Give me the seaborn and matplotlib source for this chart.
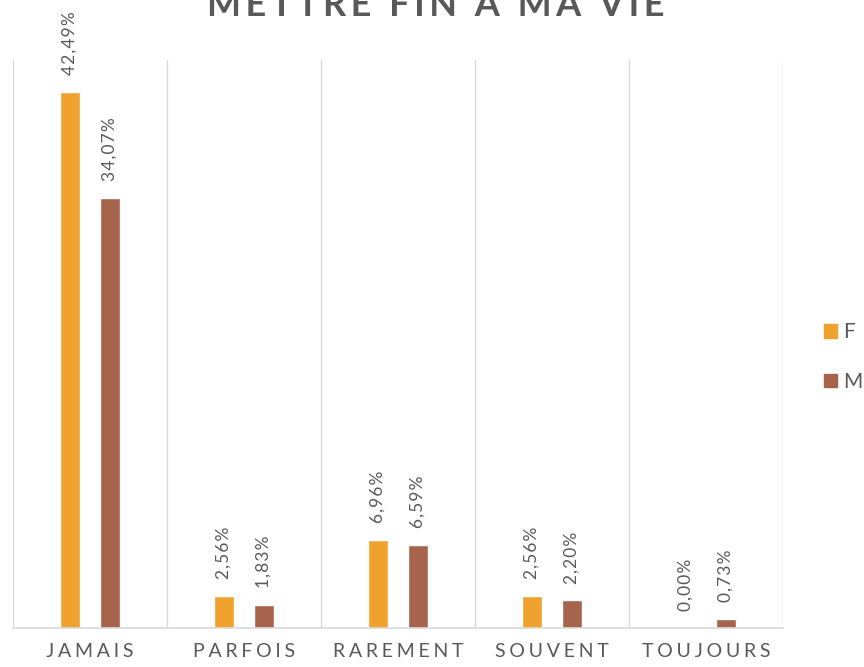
import matplotlib
matplotlib.use("Agg")
import matplotlib.pyplot as plt
import seaborn as sns
import pandas as pd

categories = ["JAMAIS", "PARFOIS", "RAREMENT", "SOUVENT", "TOUJOURS"]
f_values = [42.49, 2.56, 6.96, 2.56, 0.00]
m_values = [34.07, 1.83, 6.59, 2.20, 0.73]
series = ["F", "M"]
colors = {"F": "#F0A22E", "M": "#A6644D"}
title = "METTRE FIN À MA VIE"

df = pd.DataFrame({
    "cat": categories * 2,
    "val": f_values + m_values,
    "sex": ["F"] * len(categories) + ["M"] * len(categories),
})

sns.set_theme(style="white")
plt.rcParams["font.family"] = ["Lato", "DejaVu Sans"]

fig = plt.figure(figsize=(8.64, 6.67), dpi=100)
ax = fig.add_axes([13/864, 39/667, 770/864, 568/667])

sns.barplot(data=df, x="cat", y="val", hue="sex", palette=colors,
            width=0.52, gap=0.477, ax=ax, legend=False, saturation=1)

ax.set_ylim(0, 45)
ax.set_xlim(-0.5, len(categories) - 0.5)
ax.set_xlabel("")
ax.set_ylabel("")
ax.set_yticks([])

for b in range(len(categories) + 1):
    ax.axvline(b - 0.5, color="#D9D9D9", lw=1, zorder=0)

for s in ["top", "right", "left"]:
    ax.spines[s].set_visible(False)
ax.spines["bottom"].set_color("#D9D9D9")
ax.spines["bottom"].set_linewidth(1.2)

def spaced(t, sep="\u2009"):
    return sep.join(t)

ax.set_xticks(range(len(categories)))
ax.set_xticklabels([spaced(c, "\u2009\u200a") for c in categories], fontsize=14, color="#595959")
ax.tick_params(axis="x", length=0, pad=11)

for cont in ax.containers:
    labels = [spaced(f"{v:.2f}".replace(".", ",") + "%", "\u200a") for v in cont.datavalues]
    ax.bar_label(cont, labels=labels, rotation=90, padding=12,
                 fontsize=12.5, color="#595959")

fig.text(0.504, 1 - 16/667, spaced(title), ha="center", va="baseline",
         fontsize=26, fontweight="bold", color="#595959")

handles = [plt.Rectangle((0, 0), 1, 1, color=colors[s]) for s in series]
fig.legend(handles, series, loc="center left", bbox_to_anchor=(824/864, 1 - 357/667),
           frameon=False, fontsize=15, handlelength=0.6, handleheight=0.6,
           labelspacing=1.4, handletextpad=0.3, borderpad=0, borderaxespad=0,
           labelcolor="#595959")

fig.savefig("out.png", dpi=100)
